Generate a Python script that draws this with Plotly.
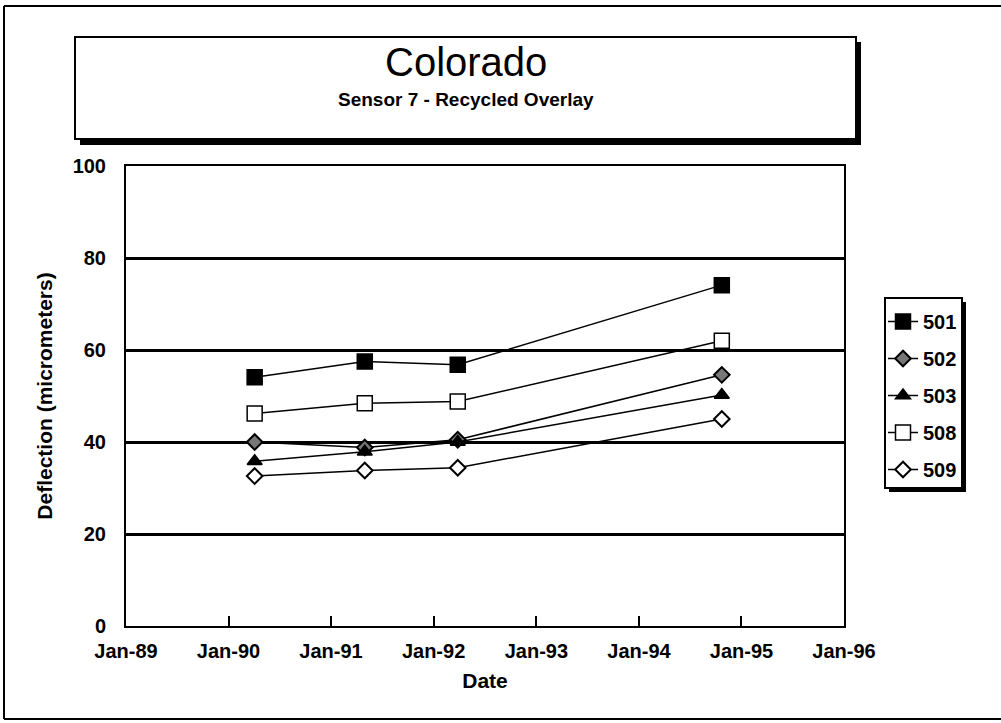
import plotly.graph_objects as go

dates = ["1990-04-04", "1991-05-01", "1992-03-27", "1994-10-23"]
series_names = ["501", "502", "503", "508", "509"]
s501 = [54.1, 57.5, 56.8, 74.1]
s502 = [40.0, 38.8, 40.5, 54.6]
s503 = [35.8, 37.9, 40.0, 50.2]
s508 = [46.2, 48.4, 48.8, 62.0]
s509 = [32.6, 33.8, 34.4, 45.0]
values = [s501, s502, s503, s508, s509]

title_text = "Colorado"
subtitle_text = "Sensor 7 - Recycled Overlay"
x_title = "Date"
y_title = "Deflection (micrometers)"

W, H = 1001, 723
# plot area in page pixels (body margin removed by post_script)
PL, PR, PT, PB = 126, 844, 166, 626
FONT = "Arial, Liberation Sans, sans-serif"

styles = {
    "501": dict(symbol="square", size=15, color="black", line=dict(color="black", width=1.5)),
    "502": dict(symbol="diamond", size=12, color="#777777", line=dict(color="black", width=2)),
    "503": dict(symbol="triangle-up", size=13, color="black", line=dict(color="black", width=1.5)),
    "508": dict(symbol="square", size=15, color="white", line=dict(color="black", width=1.5)),
    "509": dict(symbol="diamond", size=12, color="white", line=dict(color="black", width=2)),
}


def px(x):
    return (x - PL) / (PR - PL)


def py(y):
    return (PB - y) / (PB - PT)


fig = go.Figure()
for name, vals in zip(series_names, values):
    fig.add_trace(go.Scatter(
        x=dates, y=vals, name=name, mode="lines+markers",
        line=dict(color="black", width=1.5),
        marker=styles[name], legendgroup=name,
    ))

frame = dict(color="black", width=2)
shapes = [
    # outer frame (left, top, bottom edges; right edge lies outside the picture)
    dict(type="line", xref="paper", yref="paper", x0=px(4), x1=px(4), y0=py(6), y1=py(719), line=frame),
    dict(type="line", xref="paper", yref="paper", x0=px(4), x1=px(1001), y0=py(6), y1=py(6), line=frame),
    dict(type="line", xref="paper", yref="paper", x0=px(4), x1=px(1001), y0=py(719), y1=py(719), line=frame),
    # title box with shadow
    dict(type="rect", xref="paper", yref="paper", x0=px(80), x1=px(861), y0=py(42), y1=py(145),
         fillcolor="black", line=dict(width=0)),
    dict(type="rect", xref="paper", yref="paper", x0=px(75), x1=px(856), y0=py(37), y1=py(139),
         fillcolor="white", line=dict(color="black", width=2)),
    # legend box with shadow
    dict(type="rect", xref="paper", yref="paper", x0=px(889), x1=px(966), y0=py(302), y1=py(492),
         fillcolor="black", line=dict(width=0)),
    dict(type="rect", xref="paper", yref="paper", x0=px(885), x1=px(962), y0=py(298), y1=py(488),
         fillcolor="white", line=dict(color="black", width=2)),
]

annotations = [
    dict(text=title_text, xref="paper", yref="paper", x=px(466), y=py(62), showarrow=False,
         font=dict(family=FONT, size=40, color="black"), xanchor="center", yanchor="middle"),
    dict(text="<b>" + subtitle_text + "</b>", xref="paper", yref="paper", x=px(466), y=py(99),
         showarrow=False, font=dict(family=FONT, size=19, color="black"),
         xanchor="center", yanchor="middle"),
]

fig.update_layout(
    width=W, height=H,
    margin=dict(l=PL, r=W - PR, t=PT, b=H - PB, autoexpand=False),
    paper_bgcolor="white", plot_bgcolor="white",
    font=dict(family=FONT, color="black"),
    shapes=shapes, annotations=annotations,
    showlegend=True,
    legend=dict(x=px(883), y=py(302), xanchor="left", yanchor="top",
                font=dict(family=FONT, size=20, color="black", weight="bold"),
                bgcolor="rgba(0,0,0,0)", borderwidth=0,
                tracegroupgap=8, itemwidth=30),
    xaxis=dict(
        type="date", range=["1989-01-01", "1996-01-01"], dtick="M12", tick0="1989-01-01",
        tickformat="%b-%y", ticks="inside", ticklen=10, tickcolor="black", tickwidth=1.5,
        showline=True, linecolor="black", linewidth=2, mirror=True, showgrid=False, zeroline=False,
        tickfont=dict(family=FONT, size=20, color="black", weight="bold"), ticklabelstandoff=6,
        title=dict(text=x_title, font=dict(family=FONT, size=21, color="black", weight="bold"),
                   standoff=12),
    ),
    yaxis=dict(
        range=[0, 100], dtick=20, tick0=0, ticks="", showline=True, linecolor="black", linewidth=2,
        mirror=True, showgrid=True, gridcolor="black", gridwidth=2.5, zeroline=False,
        tickfont=dict(family=FONT, size=20, color="black", weight="bold"), ticklabelstandoff=14,
        title=dict(text=y_title, font=dict(family=FONT, size=21, color="black", weight="bold"),
                   standoff=14),
    ),
)

fig.write_html("out.html", config={"displayModeBar": False},
               post_script="document.body.style.margin='0px';")
